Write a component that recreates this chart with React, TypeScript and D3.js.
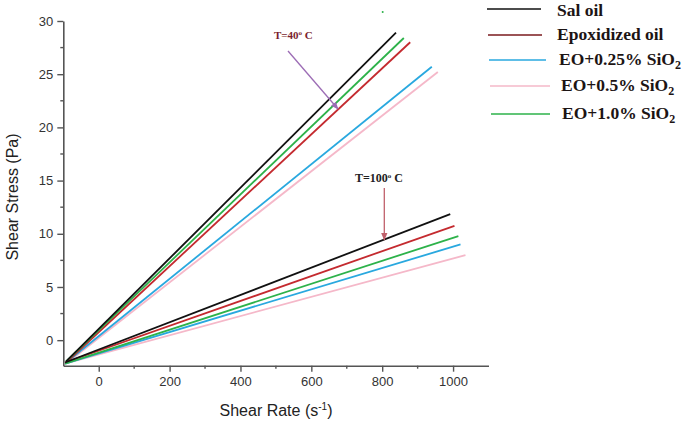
import React, { useRef, useEffect } from 'react'
import * as d3 from 'd3'

// shear rate (s-1) vs shear stress (Pa), [rate, stress]
const salOil40 = [[-92, -2.0], [839, 28.9]]
const epoxOil40 = [[-92, -2.1], [879, 28.0]]
const eo025_40 = [[-92, -2.1], [940, 25.7]]
const eo05_40 = [[-92, -2.2], [957, 25.2]]
const eo10_40 = [[-92, -2.0], [861, 28.4]]

const salOil100 = [[-95, -2.1], [992, 11.85]]
const epoxOil100 = [[-95, -2.1], [1004, 10.75]]
const eo025_100 = [[-95, -2.2], [1021, 9.0]]
const eo05_100 = [[-95, -2.2], [1035, 8.0]]
const eo10_100 = [[-95, -2.2], [1015, 9.78]]

const seriesNames = ['Sal oil', 'Epoxidized oil', 'EO+0.25% SiO', 'EO+0.5% SiO', 'EO+1.0% SiO']
const seriesColors = ['#111111', '#c42a2f', '#29a8df', '#f5b8c9', '#2db24a']
const legendColors = ['#111111', '#7a1a1e', '#29a8df', '#f5b8c9', '#2db24a']

const rateTicks = [0, 200, 400, 600, 800, 1000]
const rateMinor = [100, 300, 500, 700, 900]
const stressTicks = [0, 5, 10, 15, 20, 25, 30]
const stressMinor = [2.5, 7.5, 12.5, 17.5, 22.5, 27.5]

export default function App() {
  const svgRef = useRef(null)

  useEffect(() => {
    const width = 685
    const height = 423
    const svg = d3.select(svgRef.current)
    svg.selectAll('*').remove()
    svg.attr('width', width).attr('height', height)

    const x = d3.scaleLinear().domain([-100, 1100]).range([63.3, 488.5])
    const y = d3.scaleLinear().domain([-2.4, 30]).range([365.7, 21])

    const line = d3.line().x(d => x(d[0])).y(d => y(d[1]))

    const groups40 = [salOil40, epoxOil40, eo025_40, eo05_40, eo10_40]
    const groups100 = [salOil100, epoxOil100, eo025_100, eo05_100, eo10_100]
    // draw order: pink, blue, red, green, black on top
    const order = [3, 2, 1, 4, 0]
    order.forEach(i => {
      ;[groups40[i], groups100[i]].forEach(data => {
        svg.append('path')
          .datum(data)
          .attr('d', line)
          .style('fill', 'none')
          .style('stroke', seriesColors[i])
          .style('stroke-width', 1.8)
      })
    })

    // axes
    const axisColor = '#555'
    const gx = svg.append('g')
      .attr('transform', `translate(0,${y(-2.4)})`)
      .call(d3.axisBottom(x).tickValues(rateTicks).tickFormat(d3.format('d'))
        .tickSize(6).tickSizeOuter(0).tickPadding(5))
    const gy = svg.append('g')
      .attr('transform', `translate(${x(-100)},0)`)
      .call(d3.axisLeft(y).tickValues(stressTicks).tickSize(6).tickSizeOuter(0).tickPadding(4))
    ;[gx, gy].forEach(g => {
      g.select('.domain').attr('stroke', axisColor).attr('stroke-width', 1.6)
      g.selectAll('.tick line').attr('stroke', axisColor).attr('stroke-width', 1.4)
      g.selectAll('.tick text')
        .attr('fill', '#333')
        .style('font-family', 'Liberation Sans, Arial, sans-serif')
        .style('font-size', '13px')
    })
    svg.append('g').selectAll('line').data(rateMinor).join('line')
      .attr('x1', d => x(d)).attr('x2', d => x(d))
      .attr('y1', y(-2.4)).attr('y2', y(-2.4) + 3)
      .attr('stroke', axisColor).attr('stroke-width', 1.4)
    svg.append('g').selectAll('line').data(stressMinor).join('line')
      .attr('x1', x(-100)).attr('x2', x(-100) - 3)
      .attr('y1', d => y(d)).attr('y2', d => y(d))
      .attr('stroke', axisColor).attr('stroke-width', 1.4)

    // axis titles
    const xt = svg.append('text')
      .attr('x', 276).attr('y', 416)
      .attr('text-anchor', 'middle')
      .style('font-family', 'Liberation Sans, Arial, sans-serif')
      .style('font-size', '16px')
      .attr('fill', '#222')
      .text('Shear Rate (s')
    xt.append('tspan').attr('dy', -6).style('font-size', '10px').text('-1')
    xt.append('tspan').attr('dy', 6).text(')')

    svg.append('text')
      .attr('transform', 'translate(18,197) rotate(-90)')
      .attr('text-anchor', 'middle')
      .style('font-family', 'Liberation Sans, Arial, sans-serif')
      .style('font-size', '16px')
      .attr('fill', '#222')
      .text('Shear Stress (Pa)')

    // legend
    const legendY = [9, 35, 60, 86, 114]
    const legendX1 = [487, 488, 489, 490, 491]
    const legendX2 = [541, 542, 546, 550, 550]
    const textX = [557, 557, 559, 561, 562]
    seriesNames.forEach((name, i) => {
      svg.append('line')
        .attr('x1', legendX1[i]).attr('x2', legendX2[i])
        .attr('y1', legendY[i]).attr('y2', legendY[i])
        .attr('stroke', legendColors[i]).attr('stroke-width', 1.6)
      const t = svg.append('text')
        .attr('x', textX[i]).attr('y', legendY[i] + (i === 0 ? 6.5 : 5))
        .style('font-family', 'Liberation Serif, Times New Roman, serif')
        .style('font-weight', 'bold')
        .style('font-size', '17.5px')
        .attr('fill', '#1c1414')
        .text(name)
      if (i >= 2) t.append('tspan').attr('dy', 4).style('font-size', '12px').text('2')
    })

    // annotations
    svg.append('defs').html(`
      <marker id="ah1" viewBox="0 0 10 10" refX="9" refY="5" markerWidth="6" markerHeight="6" orient="auto">
        <path d="M0,1 L10,5 L0,9 z" fill="#9c6cb5"/></marker>
      <marker id="ah2" viewBox="0 0 10 10" refX="9" refY="5" markerWidth="6" markerHeight="6" orient="auto">
        <path d="M0,1 L10,5 L0,9 z" fill="#c0606b"/></marker>`)

    const t40 = svg.append('text')
      .attr('x', 274).attr('y', 39)
      .style('font-family', 'Liberation Serif, Times New Roman, serif')
      .style('font-weight', 'bold').style('font-size', '11px')
      .attr('fill', '#7b1f2e')
      .text('T=40')
    t40.append('tspan').attr('dy', -4).style('font-size', '7px').text('o')
    t40.append('tspan').attr('dy', 4).text(' C')
    svg.append('line')
      .attr('x1', 288).attr('y1', 51).attr('x2', 338).attr('y2', 109)
      .attr('stroke', '#9c6cb5').attr('stroke-width', 1.3)
      .attr('marker-end', 'url(#ah1)')

    const t100 = svg.append('text')
      .attr('x', 355).attr('y', 182)
      .style('font-family', 'Liberation Serif, Times New Roman, serif')
      .style('font-weight', 'bold').style('font-size', '12px')
      .attr('fill', '#222')
      .text('T=100')
    t100.append('tspan').attr('dy', -4).style('font-size', '7px').text('o')
    t100.append('tspan').attr('dy', 4).text(' C')
    svg.append('line')
      .attr('x1', 384.3).attr('y1', 188).attr('x2', 384.3).attr('y2', 240)
      .attr('stroke', '#c0606b').attr('stroke-width', 1.3)
      .attr('marker-end', 'url(#ah2)')

    // stray green dot near top
    svg.append('circle').attr('cx', 382.7).attr('cy', 12).attr('r', 1)
      .attr('fill', '#2db24a')
  }, [])

  return (
    <div style={{ position: 'fixed', left: 0, top: 0 }}>
      <svg ref={svgRef} style={{ display: 'block', background: '#fff' }}></svg>
    </div>
  )
}
